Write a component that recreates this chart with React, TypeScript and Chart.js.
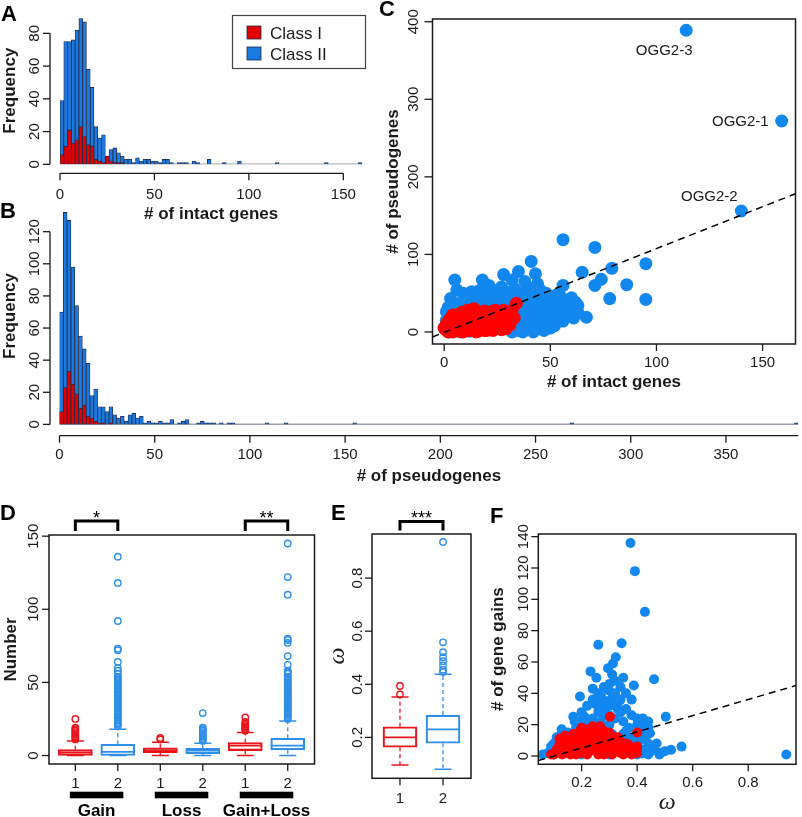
import React, { useEffect, useRef } from "react";
import { Chart, registerables } from "chart.js";

Chart.register(...registerables);

const PAGE_W = 802;
const PAGE_H = 817;
const SANS = '"Liberation Sans", Arial, Helvetica, sans-serif';
const SERIF = '"Liberation Serif", "DejaVu Serif", serif';
const INK = "#1a1a1a";
const TICK = `15px ${SANS}`;
const TITLE = `bold 17px ${SANS}`;
const LETTER = `bold 22px ${SANS}`;
const OMEGA = `italic 24px ${SERIF}`;

const HIST_BLUE = "#1b7ae0";
const HIST_RED = "#e30000";
const HIST_EDGE = "#1f2a4a";
const PT_BLUE = "#1288ef";
const PT_RED = "#ff0000";
const BOX_BLUE = "#2f8fe6";
const BOX_RED = "#e8141c";

// ---------- Panel A / B : histograms (bin width 2) ----------
const BIN = 2;
const intactHead = [39, 75, 75, 76, 82, 89, 87, 58, 47, 23, 16, 18, 5, 9, 10, 7, 5, 3, 3, 1, 4, 2, 3, 3, 2, 2, 1, 3, 3, 1, 0, 1, 1, 1, 0, 2, 1, 0, 0, 3, 0, 0, 0, 1, 0, 0, 0, 2];
const intactSingles = [114, 140, 158];
const intactMax = 160;
const intactClassI = [6, 11, 21, 13, 15, 23, 17, 12, 11, 3, 2, 1, 5, 2, 1, 1, 1];
const freqTicksA = [0, 20, 40, 60, 80];
const intactTicks = [0, 50, 100, 150];

const pseudoHead = [70, 132, 127, 98, 74, 55, 47, 38, 18, 22, 11, 11, 8, 11, 6, 4, 5, 2, 6, 7, 4, 5, 1, 2, 1, 1, 2, 1, 1, 3, 0, 1, 2, 3, 0, 0, 1, 2, 1, 1, 1, 0, 1, 0, 1, 1];
const pseudoSingles = [108, 118, 154, 268, 386];
const pseudoMax = 388;
const pseudoClassI = [8, 23, 33, 25, 19, 10, 12, 5, 4, 2, 1, 1, 0, 1];
const freqTicksB = [0, 20, 40, 60, 80, 100, 120];
const pseudoTicks = [0, 50, 100, 150, 200, 250, 300, 350];

const legendNames = ["Class I", "Class II"];

// ---------- Panel C : pseudogenes vs intact genes ----------
const cBlueX = [114, 159, 140, 56, 71, 95, 79, 65, 74, 71, 86, 56, 78, 95, 67, 62, 41, 43, 35, 38, 28, 32, 18, 5, 6, 3, 45, 23, 46, 51, 54, 52, 48, 44, 34, 30, 26, 14, 11, 20, 25, 16, 9, 7, 3, 1, 0, 2, 5, 8, 12, 18, 22, 28, 31, 36, 38, 40, 42, 47, 50, 55, 58, 60, 49, 53, 45, 39, 33, 27, 24, 19, 15, 10, 6, 4, 13, 21, 29, 37, 33, 41, 46, 57, 63, 35, 30, 25, 17, 12,
  35, 40, 44, 48, 52, 56, 58, 61, 43, 38, 36, 42, 48, 53, 31, 27, 22, 17, 9, 2, 1, 8, 33, 39, 44, 55, 60, 63, 47, 42, 37, 32, 50];
const cBlueY = [389, 272, 156, 119, 109, 88, 82, 77, 68, 60, 61, 60, 43, 42, 19, 38, 91, 75, 78, 65, 74, 67, 67, 67, 54, 43, 55, 54, 7, 15, 27, 40, 44, 31, 9, 31, 40, 40, 44, 48, 50, 46, 30, 25, 20, 15, 5, 0, 2, 0, 1, 3, 5, 8, 3, 12, 18, 25, 14, 22, 30, 33, 36, 28, 12, 20, 4, 6, 20, 26, 32, 36, 28, 18, 10, 30, 52, 60, 45, 50, 42, 38, 36, 25, 34, 30, 15, 18, 22, 10,
  2, 10, 18, 26, 8, 14, 22, 18, 42, 34, 40, 46, 50, 48, 50, 58, 44, 54, 50, 32, 26, 38, 56, 58, 62, 45, 44, 25, 2, 0, 0, 0, 5];
const cRedX = [0, 1, 2, 3, 4, 5, 6, 7, 8, 9, 10, 11, 12, 13, 14, 15, 16, 17, 18, 19, 20, 21, 22, 23, 24, 25, 26, 27, 28, 29, 30, 31, 13, 9, 16, 20, 6, 3, 11, 15, 24, 27, 30, 19, 8, 34, 2, 5, 12, 18, 22, 28, 10, 14, 17, 21, 25, 7, 4, 1,
  3, 5, 7, 9, 11, 13, 15, 17, 19, 21, 23, 25, 27, 29, 31, 6, 8, 10, 12, 14, 16, 18, 20, 22, 24, 26, 28, 30, 32, 1, 2, 4, 7, 11, 15, 18, 23, 26, 29, 33];
const cRedY = [5, 2, 8, 12, 4, 15, 9, 18, 3, 14, 20, 7, 25, 11, 30, 16, 5, 22, 10, 27, 14, 6, 18, 9, 22, 13, 26, 17, 8, 21, 15, 24, 2, 0, 1, 2, 22, 18, 28, 24, 4, 3, 10, 12, 25, 37, 0, 6, 15, 19, 12, 28, 10, 8, 14, 24, 20, 12, 22, 10,
  6, 10, 4, 8, 13, 18, 9, 6, 2, 11, 15, 8, 11, 4, 9, 16, 20, 24, 20, 22, 26, 24, 20, 26, 28, 20, 15, 20, 28, 6, 14, 0, 1, 2, 0, 6, 2, 5, 14, 18];
const cFitSlope = 1.08;
const cFitIntercept = -0.5;
const cLabelNames = ["OGG2-3", "OGG2-1", "OGG2-2"]; // first three blue points
const cXTicks = [0, 50, 100, 150];
const cYTicks = [0, 100, 200, 300, 400];

// ---------- Panel D : gains / losses boxplots ----------
const dPos = [1, 2, 3, 4, 5, 6];
const dTickLabels = ["1", "2", "1", "2", "1", "2"];
const dClass = [1, 2, 1, 2, 1, 2];
const dLow = [0, 0, 0, 0, 0, 0];
const dQ1 = [0, 0, 2, 1.2, 3.4, 3.9];
const dMed = [2, 2.5, 3.5, 3.4, 6.8, 6.8];
const dQ3 = [4, 7.7, 5.3, 5, 8.9, 11.8];
const dHigh = [10, 18, 9, 8.4, 15.7, 23.6];
const dOut1 = [11, 12, 13, 14, 15, 16, 17, 18, 19, 25];
const dOut2 = [20, 21, 22, 23, 24, 25, 26, 27, 28, 29, 30, 31, 32, 33, 34, 35, 36, 37, 38, 39, 40, 41, 42, 43, 44, 45, 46, 47, 48, 49, 50, 51, 52, 53, 54, 56, 58, 60, 64, 72, 73, 92, 118, 136];
const dOut3 = [11, 12];
const dOut4 = [10, 11, 12, 13, 14, 15, 16, 17, 18, 19, 29];
const dOut5 = [17, 18, 19, 20, 21, 22, 23, 26];
const dOut6 = [25, 26, 27, 28, 29, 30, 31, 32, 33, 34, 35, 36, 37, 38, 39, 40, 41, 42, 43, 44, 45, 46, 47, 48, 49, 50, 51, 52, 53, 54, 56, 57, 58, 62, 68, 77, 79, 80, 110, 122, 145];
const dYTicks = [0, 50, 100, 150];
const dGroups = ["Gain", "Loss", "Gain+Loss"];
const dSigPairs = [[1, 2], [5, 6]];
const dSigLabels = ["*", "**"];

// ---------- Panel E : omega boxplots ----------
const ePos = [1, 2];
const eTickLabels = ["1", "2"];
const eLow = [0.096, 0.08];
const eQ1 = [0.163, 0.178];
const eMed = [0.2, 0.23];
const eQ3 = [0.24, 0.284];
const eHigh = [0.352, 0.438];
const eOut1 = [0.362, 0.394];
const eOut2 = [0.446, 0.455, 0.471, 0.487, 0.502, 0.521, 0.558, 0.936];
const eYTicks = [0.2, 0.4, 0.6, 0.8];
const eSigLabel = "***";

// ---------- Panel F : gene gains vs omega ----------
const fBlueX = [0.376, 0.392, 0.428, 0.26, 0.344, 0.323, 0.313, 0.295, 0.232, 0.253, 0.35, 0.461, 0.388, 0.297, 0.194, 0.503, 0.56, 0.522, 0.485, 0.937, 0.27, 0.29, 0.31, 0.3, 0.33, 0.32, 0.28, 0.26, 0.34, 0.25, 0.21, 0.175, 0.35, 0.37, 0.42, 0.44, 0.4, 0.44, 0.43, 0.41, 0.38, 0.45, 0.36, 0.33, 0.12, 0.08, 0.1, 0.15, 0.14, 0.18, 0.22, 0.24, 0.27, 0.3, 0.29, 0.2, 0.31, 0.23, 0.39, 0.46, 0.48, 0.4, 0.3, 0.2, 0.1, 0.15, 0.128, 0.446, 0.412, 0.418,
  0.2, 0.22, 0.24, 0.26, 0.28, 0.3, 0.32, 0.34, 0.36, 0.38, 0.34, 0.36, 0.38, 0.4, 0.42, 0.44, 0.32, 0.28, 0.25, 0.19, 0.17, 0.13, 0.11, 0.09, 0.06, 0.42, 0.44, 0.47, 0.5, 0.35, 0.37, 0.3, 0.26, 0.31, 0.24, 0.33, 0.36, 0.39, 0.42];
const fBlueY = [136, 118, 92, 71, 72, 63, 59, 56, 54, 50, 50, 49, 45, 42, 38, 25, 6, 4, 2, 1, 38, 35, 37, 32, 30, 40, 30, 28, 28, 33, 25, 22, 22, 18, 17, 18, 20, 8, 12, 10, 5, 3, 2, 9, 5, 2, 8, 15, 10, 18, 20, 24, 22, 26, 18, 12, 14, 10, 12, 5, 1, 1, 1, 1, 1, 3, 17, 14.5, 19, 1.6,
  28, 32, 36, 40, 44, 46, 48, 44, 40, 36, 36, 30, 26, 24, 24, 22, 24, 26, 20, 22, 25, 15, 12, 6, 1, 4, 1, 8, 3, 14, 12, 20, 34, 52, 43, 34, 16, 8, 14];
const fRedX = [0.302, 0.4, 0.4, 0.266, 0.194, 0.35, 0.1, 0.12, 0.14, 0.15, 0.16, 0.17, 0.18, 0.19, 0.2, 0.21, 0.22, 0.23, 0.24, 0.25, 0.26, 0.27, 0.28, 0.29, 0.3, 0.31, 0.32, 0.33, 0.34, 0.35, 0.37, 0.38, 0.2, 0.22, 0.25, 0.27, 0.13, 0.18, 0.23, 0.29, 0.33, 0.36, 0.24, 0.26, 0.2, 0.21, 0.15, 0.28,
  0.09, 0.11, 0.13, 0.12, 0.14, 0.16, 0.17, 0.19, 0.18, 0.2, 0.21, 0.22, 0.22, 0.23, 0.24, 0.24, 0.25, 0.25, 0.26, 0.26, 0.27, 0.27, 0.28, 0.28, 0.29, 0.3, 0.3, 0.31, 0.31, 0.32, 0.32, 0.33, 0.34, 0.34, 0.35, 0.36, 0.37, 0.38, 0.39, 0.4, 0.17, 0.19, 0.16, 0.21, 0.23, 0.26, 0.3, 0.12, 0.14, 0.2];
const fRedY = [25, 15, 2, 19, 16, 7, 1, 3, 6, 2, 9, 4, 12, 7, 15, 3, 10, 17, 6, 13, 1, 9, 16, 4, 11, 7, 3, 6, 2, 5, 3, 1, 5, 1, 4, 2, 8, 1, 3, 9, 12, 8, 19, 17, 18, 13, 12, 5,
  1, 4, 1, 7, 2, 5, 10, 3, 8, 10, 7, 14, 5, 12, 9, 15, 7, 17, 11, 4, 14, 6, 10, 1, 13, 7, 3, 10, 1, 8, 12, 3, 6, 9, 1, 4, 7, 4, 2, 6, 14, 11, 1, 17, 6, 8, 15, 11, 13, 2];
const fFitSlope = 51.6;
const fFitIntercept = -5.2;
const fXTicks = [0.2, 0.4, 0.6, 0.8];
const fYTicks = [0, 20, 40, 60, 80, 100, 120, 140];

// ---------- layout (page pixel areas) ----------
type Area = { left: number; top: number; right: number; bottom: number };
const areaA: Area = { left: 60, top: 17, right: 362.2, bottom: 164.3 };
const areaB: Area = { left: 59.5, top: 207.6, right: 798.3, bottom: 424.4 };
const areaC: Area = { left: 432.5, top: 19, right: 797, bottom: 344 };
const areaD: Area = { left: 49, top: 535, right: 314.5, bottom: 764 };
const areaE: Area = { left: 372, top: 534, right: 471, bottom: 778.3 };
const areaF: Area = { left: 538.3, top: 534, right: 796, bottom: 764.3 };

// ---------- helpers ----------
function buildCounts(head: number[], singles: number[], max: number) {
  const n = Math.round(max / BIN);
  const out = new Array(n).fill(0);
  head.forEach((v, i) => (out[i] = v));
  singles.forEach((s) => (out[Math.floor(s / BIN)] += 1));
  return out;
}
function histPoints(counts: number[], n: number) {
  const pts = [];
  for (let i = 0; i < n; i++) {
    const v = counts[i] || 0;
    pts.push({ x: i * BIN + BIN / 2, y: v === 0 ? null : v });
  }
  return pts;
}
function pairs(xs: number[], ys: number[]) {
  return xs.map((x, i) => ({ x, y: ys[i] }));
}

function seg(ctx: any, x1: number, y1: number, x2: number, y2: number, w = 1.3, color = INK, dash: number[] = []) {
  ctx.save();
  ctx.strokeStyle = color;
  ctx.lineWidth = w;
  ctx.setLineDash(dash);
  ctx.beginPath();
  ctx.moveTo(x1, y1);
  ctx.lineTo(x2, y2);
  ctx.stroke();
  ctx.restore();
}
function txt(ctx: any, s: string, x: number, y: number, font: string, align: CanvasTextAlign = "center", rotate = false, color = INK) {
  ctx.save();
  ctx.font = font;
  ctx.fillStyle = color;
  ctx.textAlign = align;
  ctx.textBaseline = "alphabetic";
  if (rotate) {
    ctx.translate(x, y);
    ctx.rotate(-Math.PI / 2);
    ctx.fillText(s, 0, 0);
  } else {
    ctx.fillText(s, x, y);
  }
  ctx.restore();
}
function leftAxis(ctx: any, ys: any, ticks: number[], fmt: (v: number) => string, xLine: number, gap: number, tickLen = 7, withLine = true) {
  const px = ticks.map((t) => ys.getPixelForValue(t));
  if (withLine) seg(ctx, xLine, px[0], xLine, px[px.length - 1], 1.3);
  px.forEach((p, i) => {
    seg(ctx, xLine - tickLen, p, xLine, p, 1.3);
    txt(ctx, fmt(ticks[i]), xLine - gap, p, TICK, "center", true);
  });
}
function bottomAxis(ctx: any, xs: any, ticks: number[], labels: string[], yLine: number, drop: number, tickLen = 7, lineFrom?: number, lineTo?: number) {
  const px = ticks.map((t) => xs.getPixelForValue(t));
  if (lineFrom !== undefined && lineTo !== undefined) seg(ctx, xs.getPixelForValue(lineFrom), yLine, xs.getPixelForValue(lineTo), yLine, 1.3);
  px.forEach((p, i) => {
    seg(ctx, p, yLine, p, yLine + tickLen, 1.3);
    txt(ctx, labels[i], p, yLine + drop, TICK);
  });
}
function frame(ctx: any, a: any) {
  ctx.save();
  ctx.strokeStyle = INK;
  ctx.lineWidth = 1.5;
  ctx.strokeRect(a.left, a.top, a.right - a.left, a.bottom - a.top);
  ctx.restore();
}
function bracket(ctx: any, x1: number, x2: number, yTop: number, yLeg: number, label: string) {
  ctx.save();
  ctx.strokeStyle = "#000";
  ctx.lineWidth = 3;
  ctx.lineJoin = "miter";
  ctx.beginPath();
  ctx.moveTo(x1, yLeg);
  ctx.lineTo(x1, yTop);
  ctx.lineTo(x2, yTop);
  ctx.lineTo(x2, yLeg);
  ctx.stroke();
  ctx.restore();
  txt(ctx, label, (x1 + x2) / 2, yTop + 2.5, `18px ${SANS}`, "center", false, "#000");
}

function baseConfig(area: Area, xr: number[], yr: number[], datasets: any[], draw: (chart: any) => void) {
  return {
    type: "scatter",
    data: { datasets },
    options: {
      responsive: false,
      maintainAspectRatio: false,
      animation: false,
      devicePixelRatio: 1,
      events: [],
      layout: {
        padding: { left: area.left, top: area.top, right: PAGE_W - area.right, bottom: PAGE_H - area.bottom },
      },
      plugins: { legend: { display: false }, tooltip: { enabled: false }, title: { display: false } },
      scales: {
        x: { type: "linear", min: xr[0], max: xr[1], display: false, offset: false },
        y: { type: "linear", min: yr[0], max: yr[1], display: false },
      },
    },
    plugins: [{ id: "decor", afterDraw: (chart: any) => draw(chart) }],
  };
}

function histDatasets(total: number[], classI: number[], maxV: number) {
  const n = total.length;
  return [
    {
      type: "line",
      data: [{ x: 0, y: 0 }, { x: maxV, y: 0 }],
      borderColor: "#3a4258",
      borderWidth: 1.1,
      pointRadius: 0,
    },
    {
      type: "bar",
      data: histPoints(classI, n),
      backgroundColor: HIST_RED,
      borderColor: HIST_EDGE,
      borderWidth: 0.8,
      grouped: false,
      categoryPercentage: 1,
      barPercentage: 1,
    },
    {
      type: "bar",
      data: histPoints(total, n),
      backgroundColor: HIST_BLUE,
      borderColor: HIST_EDGE,
      borderWidth: 0.8,
      grouped: false,
      categoryPercentage: 1,
      barPercentage: 1,
    },
  ];
}

function boxDatasets(pos: number[], lo: number[], q1: number[], med: number[], q3: number[], hi: number[], outs: number[][], colors: string[], boxPx: number, dash: number[]) {
  const ds: any[] = [];
  pos.forEach((p, i) => {
    const c = colors[i];
    ds.push({ type: "bar", data: [{ x: p, y: [q1[i], q3[i]] }], backgroundColor: "rgba(255,255,255,0)", borderColor: c, borderWidth: 1.5, borderSkipped: false, barThickness: boxPx, grouped: false });
    ds.push({ type: "line", data: [{ x: p, y: q3[i] }, { x: p, y: hi[i] }], borderColor: c, borderWidth: 1.3, borderDash: dash, pointRadius: 0 });
    ds.push({ type: "line", data: [{ x: p, y: q1[i] }, { x: p, y: lo[i] }], borderColor: c, borderWidth: 1.3, borderDash: dash, pointRadius: 0 });
    ds.push({ type: "scatter", data: [{ x: p, y: med[i] }], pointStyle: "line", pointRadius: boxPx / 2, pointBorderColor: c, pointBorderWidth: 1.8 });
    ds.push({ type: "scatter", data: [{ x: p, y: lo[i] }, { x: p, y: hi[i] }], pointStyle: "line", pointRadius: boxPx / 4, pointBorderColor: c, pointBorderWidth: 1.5 });
    ds.push({ type: "scatter", data: outs[i].map((v) => ({ x: p, y: v })), pointStyle: "circle", pointRadius: 3.2, pointBorderColor: c, pointBorderWidth: 1.4, pointBackgroundColor: "rgba(255,255,255,0)" });
  });
  return ds;
}

function drawLegend(ctx: any) {
  ctx.save();
  ctx.strokeStyle = "#444";
  ctx.lineWidth = 1.2;
  ctx.strokeRect(232.5, 15.5, 133, 53);
  ctx.fillStyle = HIST_RED;
  ctx.fillRect(247, 26, 14, 13);
  ctx.strokeStyle = HIST_EDGE;
  ctx.lineWidth = 0.8;
  ctx.strokeRect(247, 26, 14, 13);
  ctx.fillStyle = HIST_BLUE;
  ctx.fillRect(247, 47, 14, 13);
  ctx.strokeRect(247, 47, 14, 13);
  ctx.restore();
  txt(ctx, legendNames[0], 270, 38.5, `17px ${SANS}`, "left");
  txt(ctx, legendNames[1], 270, 59.5, `17px ${SANS}`, "left");
}

// ---------- chart configs ----------
function configA() {
  const total = buildCounts(intactHead, intactSingles, intactMax);
  return baseConfig(areaA, [0, intactMax], [0, 90], histDatasets(total, intactClassI, intactMax), (chart) => {
    const ctx = chart.ctx;
    const { x, y } = chart.scales;
    const ca = chart.chartArea;
    leftAxis(ctx, y, freqTicksA, (v) => String(v), 50, 11.5);
    bottomAxis(ctx, x, intactTicks, intactTicks.map(String), 173.3, 26, 7, intactTicks[0], intactTicks[intactTicks.length - 1]);
    txt(ctx, "Frequency", 15, (ca.top + ca.bottom) / 2, TITLE, "center", true);
    txt(ctx, "# of intact genes", (ca.left + ca.right) / 2, 219, TITLE);
    drawLegend(ctx);
    txt(ctx, "A", 1, 21, LETTER, "left", false, "#000");
  });
}

function configB() {
  const total = buildCounts(pseudoHead, pseudoSingles, pseudoMax);
  return baseConfig(areaB, [0, pseudoMax], [0, 135], histDatasets(total, pseudoClassI, pseudoMax), (chart) => {
    const ctx = chart.ctx;
    const { x, y } = chart.scales;
    const ca = chart.chartArea;
    leftAxis(ctx, y, freqTicksB, (v) => String(v), 50, 11.5);
    bottomAxis(ctx, x, pseudoTicks, pseudoTicks.map(String), 435.7, 23.5, 7, 0, pseudoMax);
    txt(ctx, "Frequency", 15, (ca.top + ca.bottom) / 2, TITLE, "center", true);
    txt(ctx, "# of pseudogenes", (ca.left + ca.right) / 2, 481, TITLE);
    txt(ctx, "B", 0, 218, LETTER, "left", false, "#000");
  });
}

function configC() {
  const fit = [cFitSlope, cFitIntercept];
  const xr = [-5.5, 165.5];
  const datasets = [
    { type: "line", data: xr.map((v) => ({ x: v, y: fit[0] * v + fit[1] })), borderColor: "#000", borderWidth: 1.5, borderDash: [7, 5], pointRadius: 0 },
    { type: "scatter", data: pairs(cRedX, cRedY), pointRadius: 6.5, pointBackgroundColor: PT_RED, pointBorderWidth: 0 },
    { type: "scatter", data: pairs(cBlueX, cBlueY), pointRadius: 6.5, pointBackgroundColor: PT_BLUE, pointBorderWidth: 0 },
  ];
  return baseConfig(areaC, xr, [-15.5, 403.5], datasets, (chart) => {
    const ctx = chart.ctx;
    const { x, y } = chart.scales;
    const ca = chart.chartArea;
    frame(ctx, ca);
    leftAxis(ctx, y, cYTicks, (v) => String(v), ca.left, 14.5, 8, false);
    bottomAxis(ctx, x, cXTicks, cXTicks.map(String), ca.bottom, 23, 7);
    txt(ctx, "# of pseudogenes", 398, (ca.top + ca.bottom) / 2, TITLE, "center", true);
    txt(ctx, "# of intact genes", (ca.left + ca.right) / 2, 387, TITLE);
    const offs = [
      { dx: -22, dy: 25, align: "center" },
      { dx: -13, dy: 5.5, align: "right" },
      { dx: -32, dy: -10, align: "center" },
    ];
    cLabelNames.forEach((name, i) => {
      const px = x.getPixelForValue(cBlueX[i]);
      const py = y.getPixelForValue(cBlueY[i]);
      txt(ctx, name, px + offs[i].dx, py + offs[i].dy, `15px ${SANS}`, offs[i].align as CanvasTextAlign);
    });
    txt(ctx, "C", 379, 16, LETTER, "left", false, "#000");
  });
}

function configD() {
  const colors = dClass.map((c) => (c === 1 ? BOX_RED : BOX_BLUE));
  const outs = [dOut1, dOut2, dOut3, dOut4, dOut5, dOut6];
  const datasets = boxDatasets(dPos, dLow, dQ1, dMed, dQ3, dHigh, outs, colors, 34, [4, 3]);
  return baseConfig(areaD, [0.38, 6.63], [-5.8, 150.8], datasets, (chart) => {
    const ctx = chart.ctx;
    const { x, y } = chart.scales;
    const ca = chart.chartArea;
    frame(ctx, ca);
    leftAxis(ctx, y, dYTicks, (v) => String(v), ca.left, 11, 7, false);
    bottomAxis(ctx, x, dPos, dTickLabels, ca.bottom, 23.5, 7);
    txt(ctx, "Number", 16, (ca.top + ca.bottom) / 2, TITLE, "center", true);
    dGroups.forEach((g, i) => {
      const mid = (dPos[2 * i] + dPos[2 * i + 1]) / 2;
      const x1 = x.getPixelForValue(mid - 0.63);
      const x2 = x.getPixelForValue(mid + 0.63);
      ctx.save();
      ctx.fillStyle = "#000";
      ctx.fillRect(x1, 791.7, x2 - x1, 6.6);
      ctx.restore();
      txt(ctx, g, (x1 + x2) / 2, 816, TITLE, "center", false, "#000");
    });
    dSigPairs.forEach((pr, i) => {
      bracket(ctx, x.getPixelForValue(pr[0]), x.getPixelForValue(pr[1]), 521, 531, dSigLabels[i]);
    });
    txt(ctx, "D", 0, 520, LETTER, "left", false, "#000");
  });
}

function configE() {
  const datasets = boxDatasets(ePos, eLow, eQ1, eMed, eQ3, eHigh, [eOut1, eOut2], [BOX_RED, BOX_BLUE], 34, [4, 3]);
  return baseConfig(areaE, [0.35, 2.65], [0.046, 0.966], datasets, (chart) => {
    const ctx = chart.ctx;
    const { x, y } = chart.scales;
    const ca = chart.chartArea;
    frame(ctx, ca);
    leftAxis(ctx, y, eYTicks, (v) => v.toFixed(1), ca.left, 10.5, 7, false);
    bottomAxis(ctx, x, ePos, eTickLabels, ca.bottom, 25, 7);
    txt(ctx, "\u03c9", 344, (ca.top + ca.bottom) / 2, OMEGA, "center", true);
    bracket(ctx, x.getPixelForValue(ePos[0]), x.getPixelForValue(ePos[1]), 521.5, 530.5, eSigLabel);
    txt(ctx, "E", 331, 520, LETTER, "left", false, "#000");
  });
}

function configF() {
  const xr = [0.044, 0.972];
  const datasets = [
    { type: "line", data: xr.map((v) => ({ x: v, y: fFitSlope * v + fFitIntercept })), borderColor: "#000", borderWidth: 1.5, borderDash: [7, 5], pointRadius: 0 },
    { type: "scatter", data: pairs(fRedX, fRedY), pointRadius: 5, pointBackgroundColor: PT_RED, pointBorderWidth: 0 },
    { type: "scatter", data: pairs(fBlueX, fBlueY), pointRadius: 5, pointBackgroundColor: PT_BLUE, pointBorderWidth: 0 },
  ];
  return baseConfig(areaF, xr, [-5.3, 141.7], datasets, (chart) => {
    const ctx = chart.ctx;
    const { x, y } = chart.scales;
    const ca = chart.chartArea;
    frame(ctx, ca);
    leftAxis(ctx, y, fYTicks, (v) => String(v), ca.left, 10, 7, false);
    bottomAxis(ctx, x, fXTicks, fXTicks.map((v) => v.toFixed(1)), ca.bottom, 22.5, 7);
    txt(ctx, "# of gene gains", 503, (ca.top + ca.bottom) / 2, TITLE, "center", true);
    txt(ctx, "\u03c9", (ca.left + ca.right) / 2, 809, OMEGA);
    txt(ctx, "F", 490, 523, LETTER, "left", false, "#000");
  });
}

function Panel({ make }: { make: () => any }) {
  const ref = useRef<HTMLCanvasElement>(null);
  useEffect(() => {
    const chart = new Chart(ref.current as HTMLCanvasElement, make());
    return () => chart.destroy();
  }, []);
  return (
    <canvas
      ref={ref}
      width={PAGE_W}
      height={PAGE_H}
      style={{ position: "absolute", left: 0, top: 0, width: PAGE_W, height: PAGE_H }}
    />
  );
}

export default function App() {
  return (
    <div style={{ position: "absolute", left: 0, top: 0, width: PAGE_W, height: PAGE_H, background: "#fff", overflow: "hidden" }}>
      <Panel make={configA} />
      <Panel make={configB} />
      <Panel make={configC} />
      <Panel make={configD} />
      <Panel make={configE} />
      <Panel make={configF} />
    </div>
  );
}
